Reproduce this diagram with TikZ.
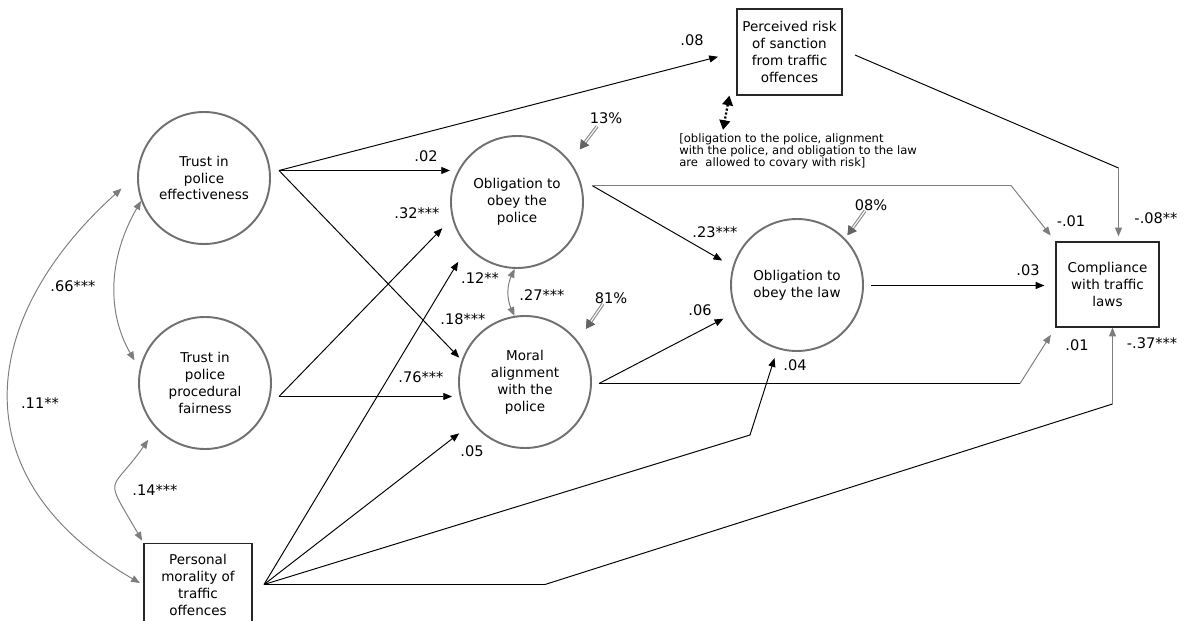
\documentclass[tikz,border=0pt]{standalone}
\usepackage{fontspec}
\setmainfont{DejaVu Sans}
\usepackage{xcolor}
\usepackage{tikz}
\usetikzlibrary{arrows.meta, positioning, calc}
\definecolor{latentcolor}{RGB}{112,112,112}
\definecolor{covcolor}{RGB}{125,125,125}
\definecolor{residcolor}{RGB}{140,140,140}
\definecolor{residhead}{RGB}{100,100,100}
\newcommand{\varfont}{\fontsize{7.7}{9.6}\selectfont}
\newcommand{\coeffont}{\fontsize{8.3}{10}\selectfont}
\newcommand{\notefont}{\fontsize{6.6}{6.9}\selectfont}

\begin{document}
\begin{tikzpicture}[
    latent/.style={circle, draw=latentcolor, line width=1.1pt, minimum size=2.64cm, inner sep=0pt, align=center, font=\varfont},
    observed/.style={rectangle, draw=black!85, line width=0.7pt, inner sep=0pt, align=center, font=\varfont},
    coef/.style={inner sep=0pt, font=\coeffont},
    link/.style={line width=0.55pt, -{Triangle[length=5pt,width=4pt]}},
    plainlink/.style={line width=0.55pt},
    graylink/.style={line width=0.55pt, covcolor, -{Triangle[length=5pt,width=4pt]}},
    cov/.style={line width=0.55pt, covcolor, {Triangle[length=5pt,width=4pt]}-{Triangle[length=5pt,width=4pt]}},
    resid/.style={residcolor, line width=1.9pt, -{Triangle[length=5pt,width=5.5pt,color=residhead]},
        postaction={draw=white, line width=0.6pt, -{Triangle[length=5pt,width=5.5pt,color=residhead]}}},
    riskcov/.style={line width=1.3pt, dash pattern=on 1.2pt off 1.1pt, {Triangle[length=5.5pt,width=6pt]}-{Triangle[length=5.5pt,width=6pt]}}
]
    \useasboundingbox (0,0) rectangle (23.76,-12.42);

    \node[latent] (trusteff) at (4.08,-3.56) {Trust in\\police\\effectiveness};
    \node[latent] (trustfair) at (4.10,-7.66) {Trust in\\police\\procedural\\fairness};
    \node[latent] (oblpolice) at (10.34,-4.04) {Obligation to\\obey the\\police};
    \node[latent] (moral) at (10.50,-7.64) {Moral\\alignment\\with the\\police};
    \node[latent] (obllaw) at (15.94,-5.70) {Obligation to\\obey the law};
    \node[observed, minimum width=2.1cm, minimum height=1.72cm] (risk) at (15.79,-1.04) {Perceived risk\\of sanction\\from traffic\\offences};
    \node[observed, minimum width=2.06cm, minimum height=1.70cm] (comply) at (22.15,-5.69) {Compliance\\with traffic\\laws};
    \node[observed, minimum width=2.16cm, minimum height=1.66cm] (morality) at (3.96,-11.70) {Personal\\morality of\\traffic\\offences};
    \node[anchor=west, align=left, inner sep=0pt, font=\notefont] (note) at (13.58,-3.02) {[obligation to the police, alignment\\with the police, and obligation to the law\\are\ \ allowed to covary with risk]};

    \coordinate (effout) at (5.58,-3.41);
    \coordinate (fairout) at (5.58,-7.93);
    \coordinate (morout) at (5.28,-11.69);
    \coordinate (polout) at (11.84,-3.71);
    \coordinate (alignout) at (11.98,-7.67);
    \coordinate (lawout) at (17.42,-5.71);
    \coordinate (riskout) at (17.10,-1.10);
    \coordinate (polbend) at (20.22,-3.71);
    \coordinate (alignbend) at (20.40,-7.67);
    \coordinate (riskbend) at (22.37,-3.36);
    \coordinate (lawbend) at (15.00,-8.70);
    \coordinate (compbend) at (10.90,-11.69);
    \coordinate (compbend2) at (22.25,-8.08);

    \draw[link, shorten >=0.38cm] (effout) -- (risk.west);
    \draw[link] (effout) -- (oblpolice.west |- effout);
    \draw[link, shorten >=0.07cm] (effout) -- (moral.161);
    \draw[link, shorten >=0.28cm] (fairout) -- (oblpolice.194);
    \draw[link, shorten >=0.12cm] (fairout) -- (moral.west |- fairout);
    \draw[link, shorten >=0.35cm] (morout) -- (oblpolice.222);
    \draw[link, shorten >=0.33cm] (morout) -- (moral.218);
    \draw[link, shorten >=0.19cm] (morout) -- (lawbend) -- (obllaw.253);
    \draw[plainlink] (morout) -- (compbend) -- (compbend2);
    \draw[graylink] (compbend2) -- (compbend2 |- comply.south);
    \draw[link, shorten >=0.24cm] (polout) -- (obllaw.164);
    \draw[graylink, shorten >=0.15cm] (polout) -- (polbend) -- (comply.north west);
    \draw[link, shorten >=0.28cm] (alignout) -- (obllaw.204);
    \draw[plainlink] (alignout) -- (alignbend);
    \draw[graylink, shorten >=0.17cm] (alignbend) -- (comply.south west);
    \draw[link, shorten >=0.22cm] (lawout) -- (comply.west |- lawout);
    \draw[plainlink] (riskout) -- (riskbend);
    \draw[graylink, shorten >=0.1cm] (riskbend) -- (riskbend |- comply.north);

    \draw[cov, shorten >=0.2cm] (trusteff.200) to[out=240, in=120] (trustfair.168);
    \draw[cov, shorten <=0.42cm, shorten >=0.08cm] (trusteff.177) to[out=222, in=150, looseness=1.33] (morality.west);
    \draw[cov, shorten <=0.27cm, shorten >=0.05cm] (trustfair.223) to[out=235, in=120, looseness=1.8] (morality.north west);
    \draw[cov] (oblpolice.268) to[bend right=25] (moral.99);

    \node[coef] (res13) at (12.12,-2.36) {13\%};
    \node[coef] (res81) at (12.22,-5.96) {81\%};
    \node[coef] (res08) at (17.42,-4.10) {08\%};
    \draw[resid, shorten <=0.06cm, shorten >=0.31cm] ([xshift=-0.14cm]res13.south) -- (oblpolice.37);
    \draw[resid, shorten >=0.29cm] ([xshift=-0.16cm]res81.south) -- (moral.38);
    \draw[resid, shorten >=0.08cm] ([xshift=-0.12cm]res08.south) -- (obllaw.44);
    \draw[riskcov] ([xshift=-0.14cm]risk.south west) -- ([xshift=0.88cm, yshift=0.06cm]note.north west);

    \node[coef] at (13.84,-0.80) {.08};
    \node[coef] at (8.52,-3.12) {.02};
    \node[coef] at (8.34,-4.26) {.32***};
    \node[coef] at (9.60,-5.56) {.12**};
    \node[coef] at (10.84,-5.90) {.27***};
    \node[coef] at (9.26,-6.38) {.18***};
    \node[coef] at (8.42,-7.54) {.76***};
    \node[coef] at (9.44,-9.02) {.05};
    \node[coef] at (14.30,-4.64) {.23***};
    \node[coef] at (14.00,-6.20) {.06};
    \node[coef] at (15.90,-7.30) {.04};
    \node[coef] at (20.56,-5.40) {.03};
    \node[coef] at (21.42,-4.42) {-.01};
    \node[coef] at (23.12,-4.36) {-.08**};
    \node[coef] at (21.54,-6.90) {.01};
    \node[coef] at (23.04,-6.86) {-.37***};
    \node[coef] at (1.46,-5.72) {.66***};
    \node[coef] at (0.80,-8.06) {.11**};
    \node[coef] at (3.10,-9.80) {.14***};
\end{tikzpicture}
\end{document}
